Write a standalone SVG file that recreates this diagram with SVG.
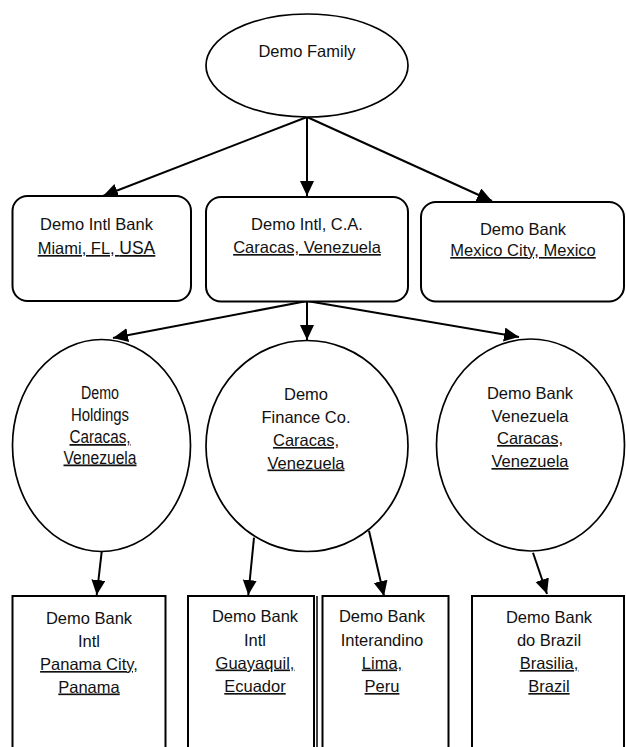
<svg xmlns="http://www.w3.org/2000/svg" width="626" height="747" viewBox="0 0 626 747">
<style>
  .shape { fill: #fff; stroke: #000; stroke-width: 2; }
  .oval { fill: #fff; stroke: #000; stroke-width: 1.7; }
  .lbl { font-family: "Liberation Sans", Arial, sans-serif; font-size: 16.5px; fill: #111; text-anchor: middle; }
  .cond { font-size: 17.5px; }
  .u { text-decoration: underline; }
  .conn { stroke: #000; stroke-width: 2; fill: none; marker-end: url(#arrow); }
</style>
<defs>
  <marker id="arrow" markerUnits="userSpaceOnUse" markerWidth="16" markerHeight="16" refX="15" refY="7" orient="auto">
    <path d="M0,0 L15,7 L0,14 z" fill="#000"/>
  </marker>
</defs>
<rect x="0" y="0" width="626" height="747" fill="#fff"/>

<g id="connectors">
  <line class="conn" x1="307" y1="117" x2="103" y2="196"/>
  <line class="conn" x1="307" y1="117" x2="307" y2="196"/>
  <line class="conn" x1="307" y1="117" x2="492" y2="201"/>
  <line class="conn" x1="307" y1="301" x2="113" y2="338"/>
  <line class="conn" x1="307" y1="301" x2="307" y2="340"/>
  <line class="conn" x1="307" y1="301" x2="519" y2="337"/>
  <line class="conn" x1="101.7" y1="551.7" x2="96.7" y2="595"/>
  <line class="conn" x1="254" y1="537.7" x2="248.3" y2="595"/>
  <line class="conn" x1="369" y1="530.7" x2="384" y2="596"/>
  <line class="conn" x1="533" y1="552.7" x2="547" y2="594"/>
</g>

<g id="demo-family">
  <ellipse class="oval" cx="307" cy="65.5" rx="101" ry="51.5"/>
  <text class="lbl" x="307" y="57">Demo Family</text>
</g>

<g id="demo-intl-bank">
  <rect class="shape" x="12.5" y="196" width="178.5" height="105" rx="15" ry="15"/>
  <text class="lbl" x="96.5" y="230">Demo Intl Bank</text>
  <text class="lbl u" x="96.5" y="254">Miami, FL, <tspan font-size="17.5">USA</tspan></text>
</g>

<g id="demo-intl-ca">
  <rect class="shape" x="206" y="197" width="202" height="104.5" rx="15" ry="15"/>
  <text class="lbl" x="307" y="230">Demo Intl, C.A.</text>
  <text class="lbl u" x="307" y="253">Caracas, Venezuela</text>
</g>

<g id="demo-bank-mexico">
  <rect class="shape" x="421" y="202" width="203" height="99.5" rx="15" ry="15"/>
  <text class="lbl" x="523" y="235">Demo Bank</text>
  <text class="lbl u" x="523" y="256">Mexico City, Mexico</text>
</g>

<g id="demo-holdings">
  <ellipse class="oval" cx="101.5" cy="445.5" rx="89" ry="106"/>
  <text class="lbl cond" x="100" y="399" textLength="38" lengthAdjust="spacingAndGlyphs">Demo</text>
  <text class="lbl cond" x="100" y="421" textLength="58" lengthAdjust="spacingAndGlyphs">Holdings</text>
  <text class="lbl cond u" x="100" y="443" textLength="61" lengthAdjust="spacingAndGlyphs">Caracas,</text>
  <text class="lbl cond u" x="100" y="463.5" textLength="73" lengthAdjust="spacingAndGlyphs">Venezuela</text>
</g>

<g id="demo-finance">
  <ellipse class="oval" cx="307" cy="446" rx="101" ry="105.5"/>
  <text class="lbl" x="306" y="400">Demo</text>
  <text class="lbl" x="306" y="423">Finance Co.</text>
  <text class="lbl u" x="306" y="446">Caracas,</text>
  <text class="lbl u" x="306" y="468.5">Venezuela</text>
</g>

<g id="demo-bank-venezuela">
  <ellipse class="oval" cx="530.5" cy="445" rx="94" ry="106"/>
  <text class="lbl" x="530" y="399">Demo Bank</text>
  <text class="lbl" x="530" y="422">Venezuela</text>
  <text class="lbl u" x="530" y="444">Caracas,</text>
  <text class="lbl u" x="530" y="467">Venezuela</text>
</g>

<g id="demo-bank-panama">
  <rect class="shape" x="12.5" y="596" width="153" height="200"/>
  <text class="lbl" x="89" y="624">Demo Bank</text>
  <text class="lbl" x="89" y="647">Intl</text>
  <text class="lbl u" x="89" y="670">Panama City,</text>
  <text class="lbl u" x="89" y="692.5">Panama</text>
</g>

<g id="demo-bank-ecuador">
  <rect class="shape" x="188" y="596" width="126" height="200"/>
  <line x1="317" y1="596" x2="317" y2="747" stroke="#000" stroke-width="1.5"/>
  <text class="lbl" x="255" y="622">Demo Bank</text>
  <text class="lbl" x="255" y="646">Intl</text>
  <text class="lbl u" x="255" y="668.5">Guayaquil,</text>
  <text class="lbl u" x="255" y="692">Ecuador</text>
</g>

<g id="demo-bank-peru">
  <rect class="shape" x="322.5" y="596" width="126" height="200"/>
  <text class="lbl" x="382" y="622">Demo Bank</text>
  <text class="lbl" x="382" y="646">Interandino</text>
  <text class="lbl u" x="382" y="668.5">Lima,</text>
  <text class="lbl u" x="382" y="692">Peru</text>
</g>

<g id="demo-bank-brazil">
  <rect class="shape" x="472" y="596" width="152" height="200"/>
  <text class="lbl" x="549" y="623">Demo Bank</text>
  <text class="lbl" x="549" y="646">do Brazil</text>
  <text class="lbl u" x="549" y="669">Brasilia,</text>
  <text class="lbl u" x="549" y="692">Brazil</text>
</g>
</svg>
